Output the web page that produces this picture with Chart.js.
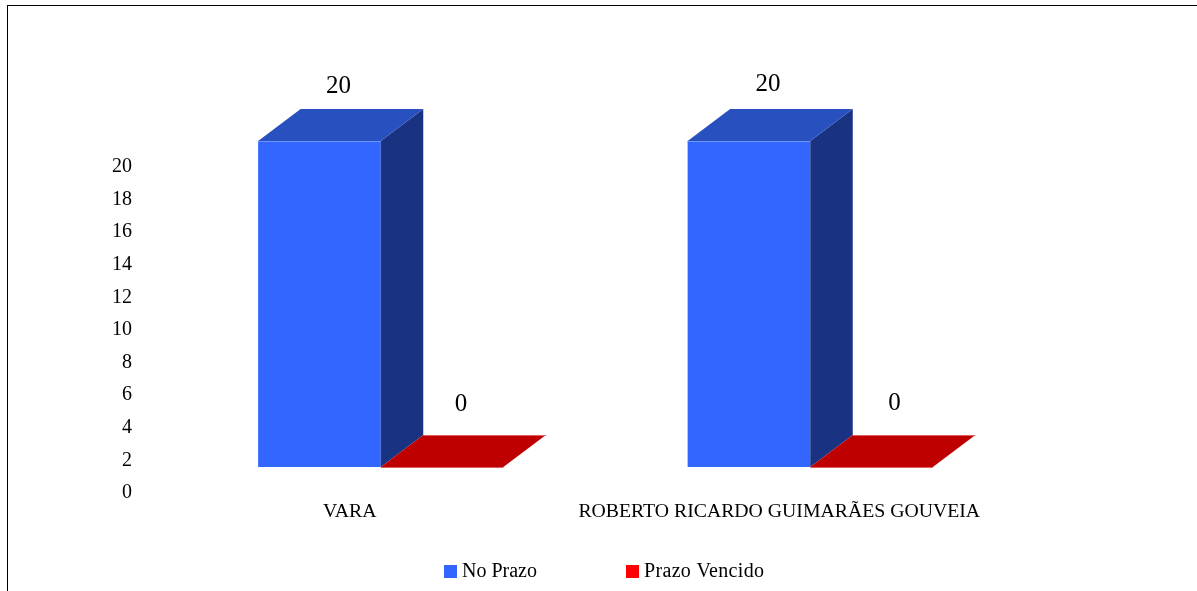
<!DOCTYPE html>
<html><head><meta charset="utf-8">
<script src="https://cdn.jsdelivr.net/npm/chart.js@4"></script>
<style>
html,body{margin:0;padding:0;background:#fff;overflow:hidden}
#frame{position:absolute;left:7px;top:5px;width:1190px;height:586px;border-left:1px solid #000;border-top:1px solid #000;box-sizing:border-box}
#wrap{position:absolute;left:8px;top:6px;width:1189px;height:585px}
</style></head><body>
<div id="frame"></div>
<div id="wrap"><canvas id="c"></canvas></div>
<script>
const categories = ["VARA", "ROBERTO RICARDO GUIMARÃES GOUVEIA"];
const noPrazo = [20, 20];
const prazoVencido = [0, 0];
const tickValues = [0, 2, 4, 6, 8, 10, 12, 14, 16, 18, 20];
const seriesNames = ["No Prazo", "Prazo Vencido"];
const FONT = '"Liberation Serif","Times New Roman",serif';

const box3d = {
  id: 'box3d',
  afterDatasetsDraw(chart) {
    const ctx = chart.ctx, dx = 42.5, dy = 32;
    const looks = [
      {top: '#2850BE', side: '#193282', edge: '#6F93FF'},
      {top: '#BE0000', side: '#800000', edge: '#E06060'}
    ];
    const nudges = [[[0, 0], [0, -2]], [[0, 0], [4, -1]]];
    chart.data.datasets.forEach((ds, di) => {
      const meta = chart.getDatasetMeta(di);
      meta.data.forEach((bar, i) => {
        const l = bar.x - bar.width / 2, r = bar.x + bar.width / 2, t = bar.y, b = bar.base;
        ctx.save();
        if (b - t > 1) {
          ctx.fillStyle = looks[di].side;
          ctx.beginPath();
          ctx.moveTo(r, t); ctx.lineTo(r + dx, t - dy); ctx.lineTo(r + dx, b - dy); ctx.lineTo(r, b);
          ctx.closePath(); ctx.fill();
        }
        ctx.fillStyle = looks[di].top;
        ctx.beginPath();
        ctx.moveTo(l, t); ctx.lineTo(l + dx, t - dy); ctx.lineTo(r + dx, t - dy); ctx.lineTo(r, t);
        ctx.closePath(); ctx.fill();
        ctx.strokeStyle = looks[di].edge;
        ctx.lineWidth = 1;
        ctx.beginPath();
        ctx.moveTo(l, t + 0.5); ctx.lineTo(r, t + 0.5);
        if (b - t <= 1) { ctx.moveTo(l + dx, t - dy + 0.5); ctx.lineTo(r + dx, t - dy + 0.5); }
        ctx.stroke();
        ctx.fillStyle = '#000';
        ctx.font = '25px ' + FONT;
        ctx.textAlign = 'center';
        ctx.textBaseline = 'middle';
        const n = nudges[di][i];
        ctx.fillText(String(ds.data[i]), bar.x + 19 + n[0], t - (ds.data[i] ? 55 : 63) + n[1]);
        ctx.restore();
      });
    });
    // legend
    const xs = [436, 618];
    const spacing = ['0px', '0.33px'];
    ctx.save();
    ctx.font = '20px ' + FONT;
    ctx.textBaseline = 'middle';
    ctx.textAlign = 'left';
    chart.data.datasets.forEach((ds, di) => {
      ctx.fillStyle = ds.backgroundColor;
      ctx.fillRect(xs[di], 559, 13, 13);
      ctx.fillStyle = '#000';
      ctx.letterSpacing = spacing[di];
      ctx.fillText(ds.label, xs[di] + 18, 566);
    });
    ctx.restore();
  }
};

new Chart(document.getElementById('c'), {
  type: 'bar',
  data: {
    labels: categories,
    datasets: [
      {label: seriesNames[0], data: noPrazo, backgroundColor: '#3366FF', yAxisID: 'y'},
      {label: seriesNames[1], data: prazoVencido, backgroundColor: '#FF0000', yAxisID: 'y'}
    ]
  },
  plugins: [box3d],
  options: {
    responsive: true,
    maintainAspectRatio: false,
    animation: false,
    layout: {padding: {top: 135, left: 0, right: 172, bottom: 48}},
    categoryPercentage: 0.571,
    barPercentage: 1,
    scales: {
      x: {
        grid: {display: false},
        border: {display: false},
        ticks: {color: '#000', font: {family: FONT, size: 19.75}, labelOffset: -31, maxRotation: 0, autoSkip: false, padding: -1},
        afterFit(axis) { axis.height = 50; }
      },
      y: {display: false, min: -1.595, max: 20},
      yLabels: {
        position: 'left',
        min: 0,
        max: 21.595,
        afterBuildTicks(axis) { axis.ticks = tickValues.map(v => ({value: v})); },
        grid: {display: false},
        border: {display: false},
        ticks: {color: '#000', font: {family: FONT, size: 20}, padding: 26},
        afterFit(axis) { axis.width = 158; }
      }
    },
    plugins: {
      tooltip: {enabled: false},
      legend: {display: false}
    }
  }
});
</script>
</body></html>
